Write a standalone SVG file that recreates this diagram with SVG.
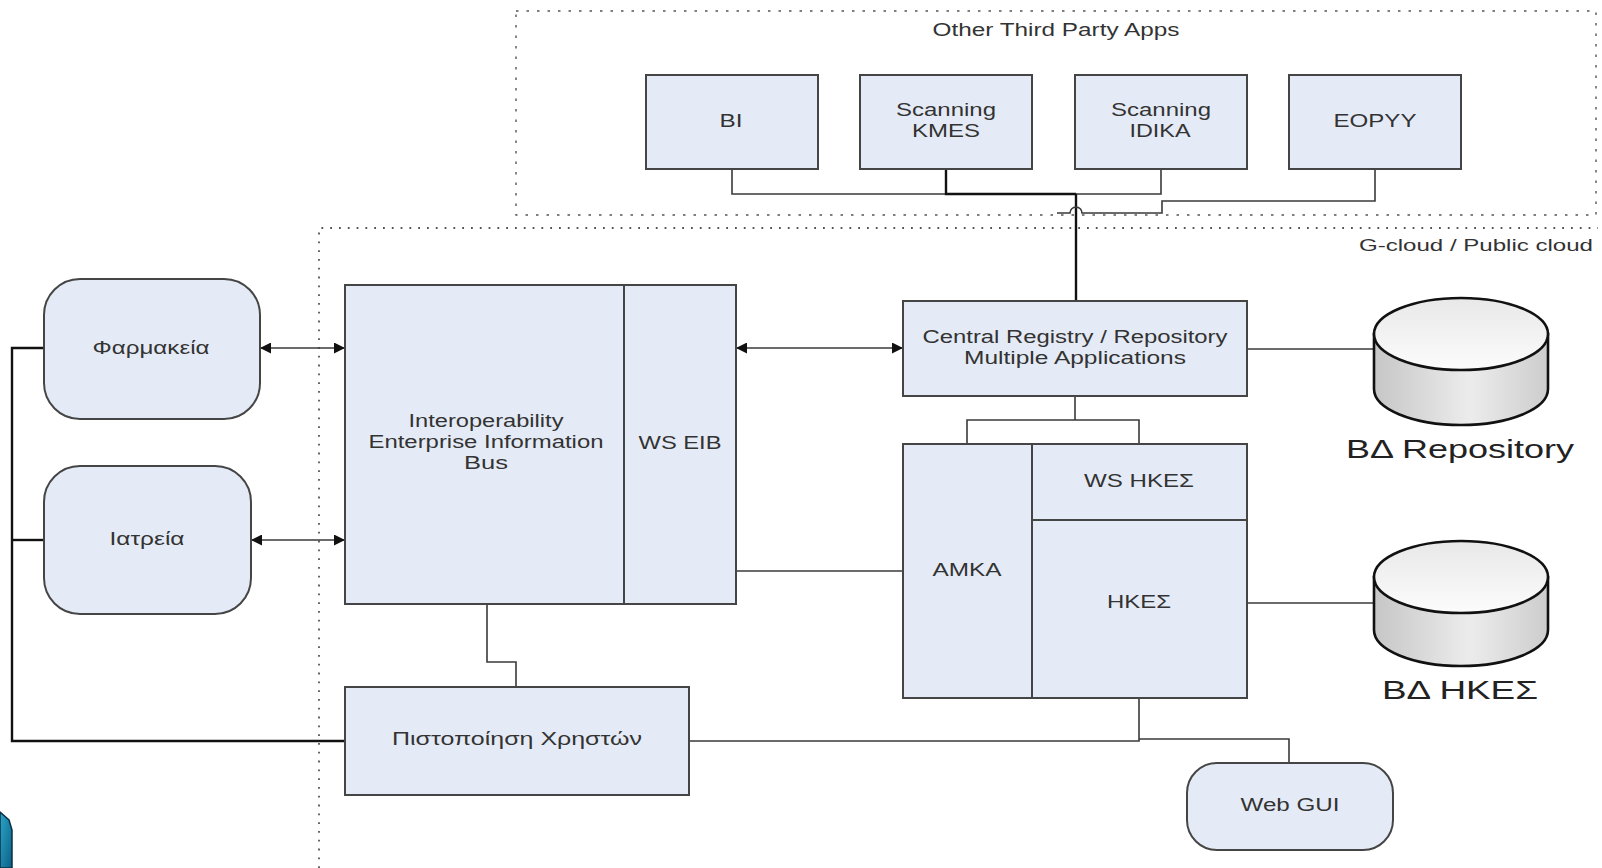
<svg xmlns="http://www.w3.org/2000/svg" width="1602" height="868" viewBox="0 0 1602 868">
<style>
.box{fill:#e5ebf6;stroke:#454545;stroke-width:2}
.t{font-family:"Liberation Sans",Arial,sans-serif;font-size:17.5px;fill:#333;text-anchor:middle}
.big{font-size:26px;fill:#222}
.ln{fill:none;stroke:#3a3a3a;stroke-width:1.6}
.thick{fill:none;stroke:#111;stroke-width:2.4}
.dot1{fill:none;stroke:#555;stroke-width:1.4;stroke-dasharray:2.5 8}
.dot2{fill:none;stroke:#555;stroke-width:1.8;stroke-dasharray:1.8 7}
.cyl{stroke:#111;stroke-width:2.6}
</style>
<defs>
<marker id="ah" viewBox="0 0 10 10" refX="10" refY="5" markerWidth="11" markerHeight="11" markerUnits="userSpaceOnUse" orient="auto-start-reverse">
<path d="M0,0 L10,5 L0,10 Z" fill="#111"/>
</marker>
<linearGradient id="body" x1="0" y1="0" x2="1" y2="0">
<stop offset="0" stop-color="#c6c6c6"/>
<stop offset="0.55" stop-color="#ececec"/>
<stop offset="1" stop-color="#cdcdcd"/>
</linearGradient>
<linearGradient id="top" x1="0" y1="0" x2="0" y2="1">
<stop offset="0" stop-color="#e8e8e8"/>
<stop offset="1" stop-color="#fcfcfc"/>
</linearGradient>
<linearGradient id="deco" x1="0" y1="0" x2="1" y2="1">
<stop offset="0" stop-color="#2aa7c9"/>
<stop offset="1" stop-color="#0d5f86"/>
</linearGradient>
</defs>

<rect x="0" y="0" width="1602" height="868" fill="#ffffff"/>

<g id="groups">
<rect class="dot1" x="516" y="11" width="1080" height="204"/>
<text class="t" x="1056" y="36" font-size="18" textLength="247" lengthAdjust="spacingAndGlyphs">Other Third Party Apps</text>
<path class="dot2" d="M319,868 V228 H1598"/>
<text class="t" x="1476" y="251" style="font-size:16px" textLength="234" lengthAdjust="spacingAndGlyphs">G-cloud / Public cloud</text>
</g>

<g id="connectors">
<path class="ln" d="M732,169 V194 H1161 V169"/>
<path class="thick" d="M946,169 V194 H1076"/>
<path class="thick" d="M1076,194 V301"/>
<path class="ln" d="M1375,169 V201 H1162 V213 H1082 A6,6 0 0 0 1070,213 H1057"/>
<path class="ln" d="M260,348 H345" marker-start="url(#ah)" marker-end="url(#ah)"/>
<path class="ln" d="M251,540 H345" marker-start="url(#ah)" marker-end="url(#ah)"/>
<path class="ln" d="M736,348 H903" marker-start="url(#ah)" marker-end="url(#ah)"/>
<path class="ln" d="M736,571 H903"/>
<path class="thick" d="M44,348 H12 V741 H345"/>
<path class="thick" d="M12,540 H44"/>
<path class="ln" d="M487,604 V662 H516 V687"/>
<path class="ln" d="M689,741 H1139 V698"/>
<path class="ln" d="M1139,739 H1289 V763"/>
<path class="ln" d="M1075,396 V420"/>
<path class="ln" d="M967,444 V420 H1139 V444"/>
<path class="ln" d="M1247,349 H1376"/>
<path class="ln" d="M1247,603 H1376"/>
</g>

<g id="node-bi"><rect class="box" x="646" y="75" width="172" height="94"/>
<text class="t" x="731" y="127" textLength="23" lengthAdjust="spacingAndGlyphs">BI</text></g>
<g id="node-kmes"><rect class="box" x="860" y="75" width="172" height="94"/>
<text class="t" x="946" y="116" textLength="100" lengthAdjust="spacingAndGlyphs">Scanning</text>
<text class="t" x="946" y="137" textLength="68" lengthAdjust="spacingAndGlyphs">KMES</text></g>
<g id="node-idika"><rect class="box" x="1075" y="75" width="172" height="94"/>
<text class="t" x="1161" y="116" textLength="100" lengthAdjust="spacingAndGlyphs">Scanning</text>
<text class="t" x="1160" y="137" textLength="61" lengthAdjust="spacingAndGlyphs">IDIKA</text></g>
<g id="node-eopyy"><rect class="box" x="1289" y="75" width="172" height="94"/>
<text class="t" x="1375" y="127" textLength="83" lengthAdjust="spacingAndGlyphs">EOPYY</text></g>

<g id="node-farmakeia"><rect class="box" x="44" y="279" width="216" height="140" rx="36"/>
<text class="t" x="151" y="354" textLength="117" lengthAdjust="spacingAndGlyphs">Φαρμακεία</text></g>
<g id="node-iatreia"><rect class="box" x="44" y="466" width="207" height="148" rx="36"/>
<text class="t" x="147" y="545" textLength="75" lengthAdjust="spacingAndGlyphs">Ιατρεία</text></g>

<g id="node-eib"><rect class="box" x="345" y="285" width="279" height="319"/>
<text class="t" x="486" y="427" textLength="155" lengthAdjust="spacingAndGlyphs">Interoperability</text>
<text class="t" x="486" y="448" textLength="235" lengthAdjust="spacingAndGlyphs">Enterprise Information</text>
<text class="t" x="486" y="469" textLength="44" lengthAdjust="spacingAndGlyphs">Bus</text></g>
<g id="node-wseib"><rect class="box" x="624" y="285" width="112" height="319"/>
<text class="t" x="680" y="449" textLength="83" lengthAdjust="spacingAndGlyphs">WS EIB</text></g>

<g id="node-central"><rect class="box" x="903" y="301" width="344" height="95"/>
<text class="t" x="1075" y="343" textLength="305" lengthAdjust="spacingAndGlyphs">Central Registry / Repository</text>
<text class="t" x="1075" y="364" textLength="222" lengthAdjust="spacingAndGlyphs">Multiple Applications</text></g>

<g id="node-amka"><rect class="box" x="903" y="444" width="129" height="254"/>
<text class="t" x="967" y="576" textLength="69" lengthAdjust="spacingAndGlyphs">ΑΜΚΑ</text></g>
<g id="node-wshkes"><rect class="box" x="1032" y="444" width="215" height="76"/>
<text class="t" x="1139" y="487" textLength="110" lengthAdjust="spacingAndGlyphs">WS ΗΚΕΣ</text></g>
<g id="node-hkes"><rect class="box" x="1032" y="520" width="215" height="178"/>
<text class="t" x="1139" y="608" textLength="64" lengthAdjust="spacingAndGlyphs">ΗΚΕΣ</text></g>

<g id="node-auth"><rect class="box" x="345" y="687" width="344" height="108"/>
<text class="t" x="517" y="745" textLength="250" lengthAdjust="spacingAndGlyphs">Πιστοποίηση Χρηστών</text></g>

<g id="node-webgui"><rect class="box" x="1187" y="763" width="206" height="87" rx="30"/>
<text class="t" x="1290" y="811" textLength="99" lengthAdjust="spacingAndGlyphs">Web GUI</text></g>

<g id="node-db-repo">
<path class="cyl" fill="url(#body)" d="M1374,334 V389 A87,36 0 0 0 1548,389 V334 Z"/>
<ellipse class="cyl" fill="url(#top)" cx="1461" cy="334" rx="87" ry="36"/>
<text class="t big" x="1460" y="458" textLength="228" lengthAdjust="spacingAndGlyphs">ΒΔ Repository</text>
</g>
<g id="node-db-hkes">
<path class="cyl" fill="url(#body)" d="M1374,577 V630 A87,36 0 0 0 1548,630 V577 Z"/>
<ellipse class="cyl" fill="url(#top)" cx="1461" cy="577" rx="87" ry="36"/>
<text class="t big" x="1460" y="699" textLength="156" lengthAdjust="spacingAndGlyphs">ΒΔ ΗΚΕΣ</text>
</g>

<path d="M0,812 L9,820 L12,830 L12,868 L0,868 Z" fill="url(#deco)" stroke="#0a2f45" stroke-width="1.5"/>
</svg>
